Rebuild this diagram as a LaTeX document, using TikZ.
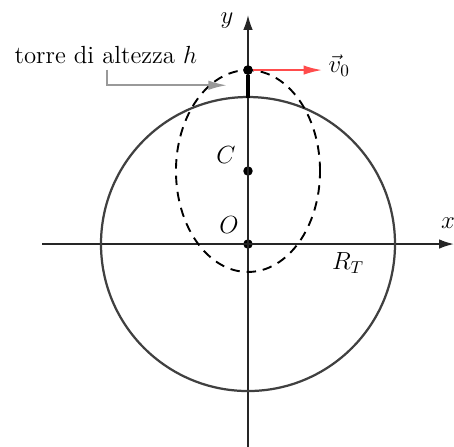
\documentclass[tikz,border=0pt]{standalone}
\usepackage{amsmath, amssymb}
\usepackage{tikz}
\usetikzlibrary{positioning, arrows.meta}
\usepackage{xcolor}

\tikzset{
  punto/.style={circle, fill=black, inner sep=0pt, minimum size=5.5pt},
  asse/.style={-{Latex[length=8.5pt, width=5.5pt]}, line width=0.8pt, black!85},
}

\begin{document}
\begin{tikzpicture}[x=1cm, y=1cm, font=\Large]
          \useasboundingbox (-5.061,-4.122) rectangle (4.204,4.980);
          % punti
          \node[punto] (O) at (0,0) {};
          \node[punto] (C) at (0,1.49) {};
          \node[punto] (P) at (0,3.55) {};
          \coordinate (base) at (0,2.98);
          % assi
          \coordinate (xa) at (-4.2,0);
          \coordinate (xb) at (4.2,0);
          \coordinate (ya) at (0,-4.2);
          \coordinate (yb) at (0,4.67);
          \draw[asse] (xa) -- (xb);
          \draw[asse] (ya) -- (yb);
          \node (xl) at (4.08,0.43) {$x$};
          \node (yl) at (-0.43,4.57) {$y$};
          % Terra
          \draw[line width=1.3pt, black!75] (O) circle (3);
          \node (RT) at (2.04,-0.39) {$R_T$};
          % orbita
          \draw[line width=1.1pt, dash pattern=on 5.5pt off 4pt] (C) ellipse (1.47 and 2.06);
          % torre
          \draw[line width=2.8pt] (base) -- (P);
          \node[punto] at (P) {};
          \coordinate (v) at (1.52,3.55);
          \draw[-{Latex[length=11pt, width=5.5pt]}, line width=1.3pt, red!70] (P) -- (v);
          \node (v0) at (1.86,3.64) {$\vec{v}_0$};
          \node (Cl) at (-0.45,1.82) {$C$};
          \node (Ol) at (-0.39,0.38) {$O$};
          % etichetta torre
          \node (tl) at (-2.9,3.86) {torre di altezza $h$};
          \coordinate (k) at (-2.88,3.24);
          \coordinate (t) at (-0.42,3.24);
          \draw[-{Latex[length=11pt, width=5.5pt]}, line width=1.4pt, black!40] (-2.88,3.56) -- (k) -- (t);
        \end{tikzpicture}
\end{document}
